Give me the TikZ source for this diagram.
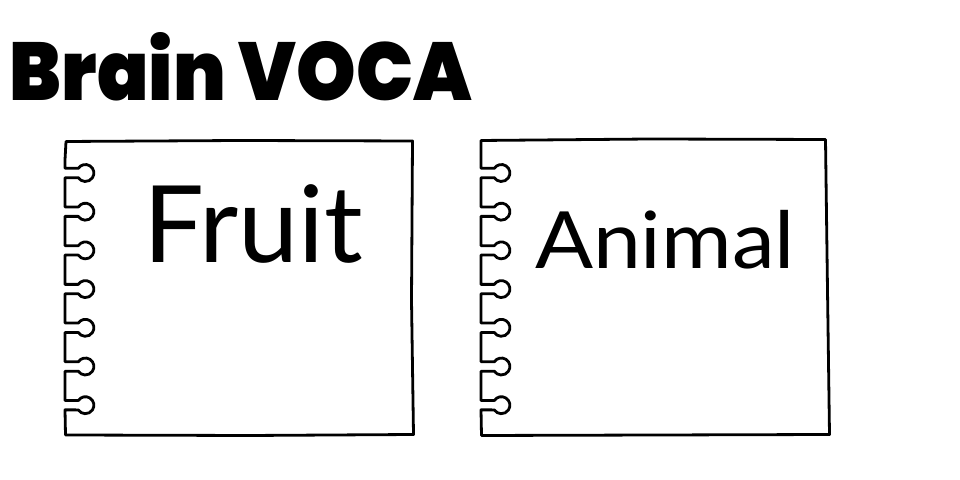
\documentclass[tikz,border=0pt]{standalone}
\usepackage{fontspec}
\usepackage{graphicx}
\setmainfont{Lato}
\newfontfamily\titlefont{Poppins Black}
\newcommand\capbox[1]{\raisebox{0pt}[\fontcharht\font`B][0pt]{#1}}
\tikzset{
  page/.style={line width=2.8bp, line join=round, line cap=round, draw=black},
  lbl/.style={inner sep=0pt, outer sep=0pt, anchor=south west}
}
\begin{document}
\begin{tikzpicture}[x=1bp,y=1bp]
\useasboundingbox (0,0) rectangle (960,480);
% title
\node[lbl] (title) at (10,{480-101}) {\resizebox{462bp}{58.5bp}{\titlefont\capbox{Brain VOCA}}};
% left notebook
\draw[page] (66,{480-141.5}) -- (65,{480-160})
  foreach \c in {173,211.7,250.4,289.1,327.8,366.5,405.2} {
    -- (65,{480-\c+4.7}) -- (78.3,{480-\c+4.7})
    arc[start angle=146.4,end angle=-146.4,radius=8.5bp]
    -- (65,{480-\c-4.7})
  }
  -- (65.5,{480-435}) -- (250,{480-435.5}) -- (413.5,{480-434.5})
  -- (411.5,{480-300}) -- (412.5,{480-141}) -- (240,{480-140.5}) -- cycle;
% right notebook
\draw[page] (481,{480-140.5}) -- (481,{480-160})
  foreach \c in {173,211.7,250.4,289.1,327.8,366.5,405.2} {
    -- (481,{480-\c+4.7}) -- (494.3,{480-\c+4.7})
    arc[start angle=146.4,end angle=-146.4,radius=8.5bp]
    -- (481,{480-\c-4.7})
  }
  -- (481.5,{480-435.5}) -- (660,{480-435}) -- (829.5,{480-434.5})
  -- (827.5,{480-290}) -- (825.5,{480-139.5}) -- (650,{480-139}) -- cycle;
% labels
\node[lbl] (fruit) at (143,{480-263}) {\resizebox{220bp}{76.5bp}{\capbox{Fruit}}};
\node[lbl] (animal) at (535,{480-268.3}) {\resizebox{260bp}{56.6bp}{\capbox{Animal}}};
\end{tikzpicture}
\end{document}
